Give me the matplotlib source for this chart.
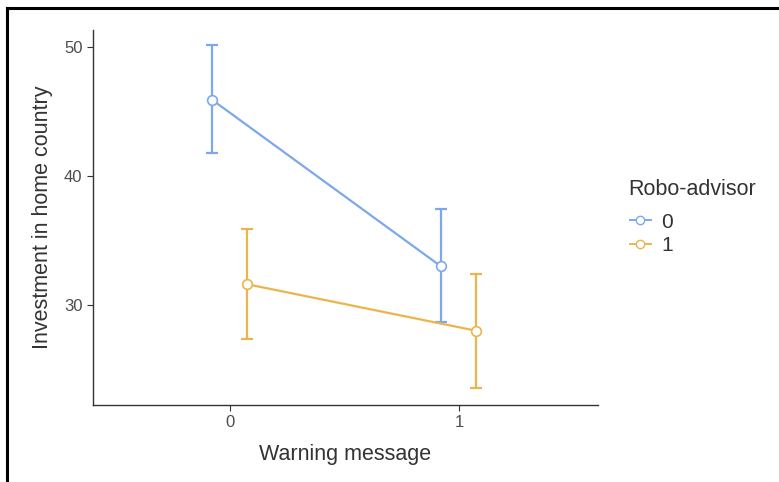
import matplotlib.pyplot as plt
import numpy as np
from matplotlib.lines import Line2D

plt.rcParams['font.family'] = ['Liberation Sans', 'DejaVu Sans']

warning = [0, 1]
groups = ["0", "1"]
means = {"0": [45.9, 33.0], "1": [31.6, 28.0]}
upper = {"0": [50.1, 37.4], "1": [35.9, 32.4]}
lower = {"0": [41.8, 28.7], "1": [27.4, 23.6]}
colors = {"0": "#7DA8EC", "1": "#EAB54C"}
dodge = {"0": -0.08, "1": 0.075}

fig = plt.figure(figsize=(7.79, 4.82), dpi=100)
ax = fig.add_axes([93 / 779, 1 - 405 / 482, 505 / 779, 375 / 482])

for g in groups:
    x = np.array(warning) + dodge[g]
    m = np.array(means[g])
    yerr = [m - np.array(lower[g]), np.array(upper[g]) - m]
    ax.errorbar(x, m, yerr=yerr, color=colors[g], lw=1.6, capsize=4.5,
                capthick=1.6, elinewidth=1.6, zorder=2)
    ax.plot(x, m, 'o', ms=7, mfc='white', mec=colors[g], mew=1.2, zorder=3)

ax.set_xlim(-0.6, 1.607)
ax.set_ylim(22.25, 51.3)
ax.set_xticks(warning)
ax.set_yticks([30, 40, 50])
for s in ['top', 'right']:
    ax.spines[s].set_visible(False)
for s in ['left', 'bottom']:
    ax.spines[s].set_color('#333333')
    ax.spines[s].set_linewidth(1.0)
ax.tick_params(colors='#333333', labelcolor='#4d4d4d', labelsize=12, length=4)
ax.set_xlabel("Warning message", fontsize=15.5, color='#333333', labelpad=10)
ax.set_ylabel("Investment in home country", fontsize=15.5, color='#333333', labelpad=8)

# legend
fig.text(628 / 779, 1 - 190 / 482, "Robo-advisor", fontsize=15.5, color='#333333',
         ha='left', va='center')
handles = [Line2D([], [], color=colors[g], lw=1.4, marker='o', ms=6,
                  mfc='white', mec=colors[g]) for g in groups]
leg = fig.legend(handles, groups, loc='upper left',
                 bbox_to_anchor=(611 / 779, 1 - 194 / 482), frameon=False,
                 fontsize=15, handlelength=1.0,
                 handletextpad=0.5, labelspacing=0.2)
for t in leg.get_texts():
    t.set_color('#333333')

# outer frame
fig.add_artist(Line2D([7 / 779, 7 / 779], [0, 1 - 8 / 482], color='black', lw=2.2,
                      transform=fig.transFigure))
fig.add_artist(Line2D([7 / 779, 1], [1 - 8 / 482, 1 - 8 / 482], color='black', lw=2.2,
                      transform=fig.transFigure))

fig.savefig("out.png", dpi=100)
